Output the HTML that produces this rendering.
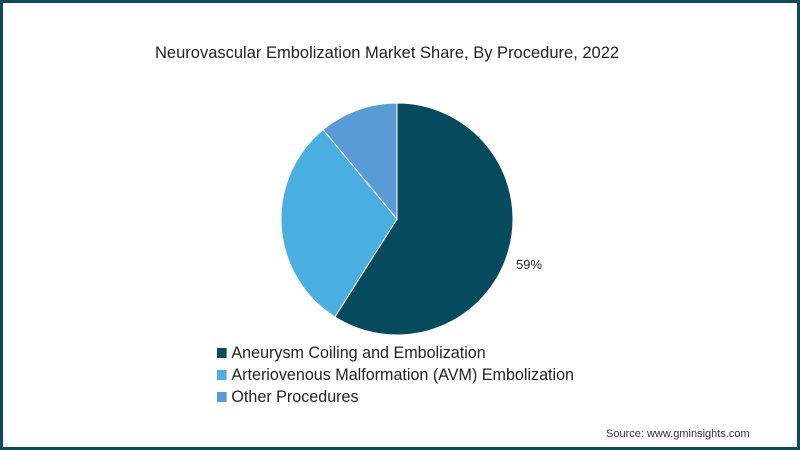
<!DOCTYPE html>
<html><head><meta charset="utf-8"><style>
html,body{margin:0;padding:0;}
body{width:800px;height:450px;overflow:hidden;background:#fff;font-family:"Liberation Sans",sans-serif;}
#frame{position:absolute;left:0;top:0;width:794px;height:444px;border:3px solid #0d4a5c;background:#fff;}
#title{position:absolute;left:155px;top:44px;font-size:16.5px;color:#222;white-space:nowrap;}
.leg{position:absolute;left:217px;font-size:16.8px;color:#222;white-space:nowrap;transform:scaleX(0.96);transform-origin:left center;}
.sw{display:inline-block;width:10px;height:10px;margin-right:5px;vertical-align:0px;}
#src{position:absolute;left:606px;top:428px;font-size:11px;color:#333;}
</style></head><body>
<div id="frame"></div>
<div id="title">Neurovascular Embolization Market Share, By Procedure, 2022</div>
<svg id="pie" width="800" height="450" style="position:absolute;left:0;top:0"></svg>
<div class="leg" style="top:343px"><span class="sw" style="background:#054a5d"></span>Aneurysm Coiling and Embolization</div>
<div class="leg" style="top:365px"><span class="sw" style="background:#4aafe0"></span>Arteriovenous Malformation (AVM) Embolization</div>
<div class="leg" style="top:387px"><span class="sw" style="background:#5b9bd5"></span>Other Procedures</div>
<div id="src">Source: www.gminsights.com</div>
<script>
const categories=["Aneurysm Coiling and Embolization","Arteriovenous Malformation (AVM) Embolization","Other Procedures"];
const values=[59,30,11];
const labels=["59%","",""];
const colors=["#054a5d","#4aafe0","#5b9bd5"];
const svg=document.getElementById('pie');
const cx=397,cy=219,r=116,NS="http://www.w3.org/2000/svg";
const total=values.reduce((a,b)=>a+b,0);
let acc=0;
function pt(f,rr){const a=f*2*Math.PI;return [cx+rr*Math.sin(a),cy-rr*Math.cos(a)];}
values.forEach((v,i)=>{
  const f0=acc/total,f1=(acc+v)/total;acc+=v;
  const [x0,y0]=pt(f0,r),[x1,y1]=pt(f1,r);
  const p=document.createElementNS(NS,'path');
  p.setAttribute('d',`M${cx},${cy}L${x0},${y0}A${r},${r} 0 ${(f1-f0)>0.5?1:0} 1 ${x1},${y1}Z`);
  p.setAttribute('fill',colors[i]);p.setAttribute('stroke','#fff');p.setAttribute('stroke-width','1');
  
  
  svg.appendChild(p);
  if(labels[i]){
    const t=document.createElementNS(NS,'text');
    t.setAttribute('x',cx+r+3);
    t.setAttribute('y',cy+50);
    t.setAttribute('font-size','13');t.setAttribute('fill','#222');
    t.setAttribute('font-family','Liberation Sans, sans-serif');
    t.textContent=labels[i];
    
    
    svg.appendChild(t);
  }
});
</script>
</body></html>
